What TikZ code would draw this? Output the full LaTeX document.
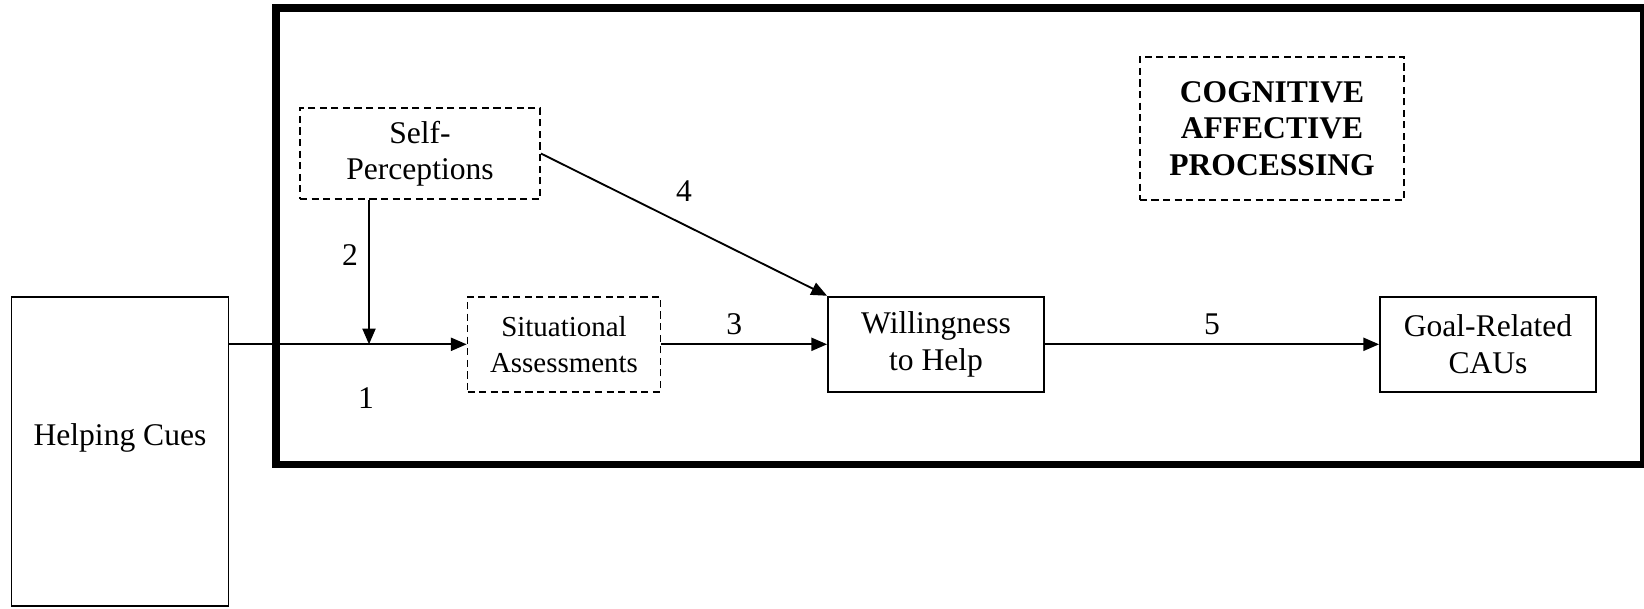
\documentclass[tikz,border=0pt]{standalone}
\usepackage{fontspec}
\setmainfont{Liberation Serif}
\usetikzlibrary{arrows.meta}

\begin{document}
\begin{tikzpicture}[x=0.38pt,y=-0.38pt,line width=0.7pt,
font=\fontsize{12}{13.8}\selectfont,
>={Triangle[length=6pt,width=5pt]},
solidbox/.style={draw,rectangle,inner sep=2pt,align=center,minimum width=82.1pt,minimum height=36.2pt},
dashbox/.style={solidbox,dash pattern=on 2.7pt off 1.7pt},
framebox/.style={line width=3pt}]

\useasboundingbox (0,0) rectangle (1644,608);
\draw[framebox] (276,8.3) rectangle (1644,464.5);

\node[solidbox,minimum width=82.5pt,minimum height=117.4pt] (cues) at (120,451.5) {};
\node (cuetext) at (120,438) {Helping Cues};
\node[dashbox,minimum width=91.2pt,minimum height=34.6pt] (self) at (420,153.5) {Self-\\Perceptions};
\node[dashbox,minimum width=73.3pt,font=\fontsize{11}{13.6}\selectfont] (sit) at (564,344.3) {Situational\\Assessments};
\node[solidbox] (will) at (936,344.3) {Willingness\\to Help};
\node[solidbox] (goal) at (1488,344.3) {Goal-Related\\CAUs};
\node[dashbox,minimum width=100.4pt,minimum height=54.5pt,font=\fontsize{12}{13.9}\selectfont\bfseries] (cog) at (1272,128.3) {COGNITIVE\\AFFECTIVE\\PROCESSING};

\coordinate (j) at (369,344.3);

\draw[->] (cues.east |- sit.west) -- (sit.west);
\draw[->] (self.south -| j) -- (j);
\draw[->] (sit.east) -- node[above,xshift=-3.8pt] {3} (will.west);
\draw[->] (self.east) -- node[midway,yshift=12.8pt] {4} (will.north west);
\draw[->] (will.east) -- node[above] {5} (goal.west);

\node (one) at (366,398) {1};
\node (two) at (350,255) {2};
\end{tikzpicture}
\end{document}
